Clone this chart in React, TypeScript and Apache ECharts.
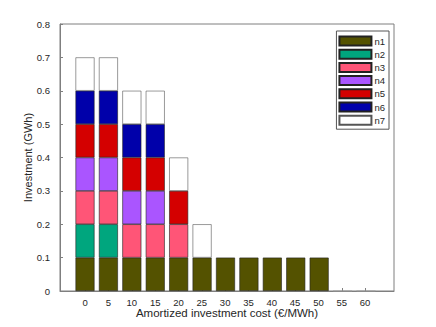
import React, { useEffect, useRef } from "react";
import * as echarts from "echarts";

const costs = [0, 5, 10, 15, 20, 25, 30, 35, 40, 45, 50, 55, 60];
const seriesNames = ["n1", "n2", "n3", "n4", "n5", "n6", "n7"];
const n1 = [0.1, 0.1, 0.1, 0.1, 0.1, 0.1, 0.1, 0.1, 0.1, 0.1, 0.1, 0, 0];
const n2 = [0.1, 0.1, 0, 0, 0, 0, 0, 0, 0, 0, 0, 0, 0];
const n3 = [0.1, 0.1, 0.1, 0.1, 0.1, 0, 0, 0, 0, 0, 0, 0, 0];
const n4 = [0.1, 0.1, 0.1, 0.1, 0, 0, 0, 0, 0, 0, 0, 0, 0];
const n5 = [0.1, 0.1, 0.1, 0.1, 0.1, 0, 0, 0, 0, 0, 0, 0, 0];
const n6 = [0.1, 0.1, 0.1, 0.1, 0, 0, 0, 0, 0, 0, 0, 0, 0];
const n7 = [0.1, 0.1, 0.1, 0.1, 0.1, 0.1, 0, 0, 0, 0, 0, 0, 0];

const colors = ["#545200", "#00A67E", "#FF5577", "#AA55FF", "#D40000", "#0000AA", "#FFFFFF"];
const allValues = [n1, n2, n3, n4, n5, n6, n7];

export default function App() {
  const ref = useRef<HTMLDivElement>(null);
  useEffect(() => {
    document.body.style.margin = "0";
    const chart = echarts.init(ref.current!, null, { renderer: "svg" });
    const font = "Liberation Sans, Arial, Helvetica, sans-serif";
    const axisGray = "#7f7f7f";
    chart.setOption({
      animation: false,
      textStyle: { fontFamily: font },
      grid: [
        { left: 60, right: 42, top: 24, bottom: 36, show: true, borderColor: axisGray, borderWidth: 1, outerBoundsMode: "none", containLabel: false },
        { left: 73.3, right: 58.3, top: 24, bottom: 36, outerBoundsMode: "none", containLabel: false },
      ],
      legend: {
        orient: "vertical",
        right: 47,
        top: 31,
        data: seriesNames,
        icon: "rect",
        itemWidth: 32,
        itemHeight: 9,
        itemGap: 1.2,
        padding: [4, 4, 3, 2],
        borderColor: "#555",
        borderWidth: 1,
        backgroundColor: "#fff",
        textStyle: { fontSize: 9.5, lineHeight: 12, color: "#262626", fontFamily: font, padding: [0, 0, 0, -2] },
      },
      xAxis: [
        {
          type: "value",
          gridIndex: 0,
          min: -5.4,
          max: 66.2,
          name: "Amortized investment cost (€/MWh)",
          nameLocation: "middle",
          nameGap: 16,
          nameMoveOverlap: false,
          nameTextStyle: { fontSize: 11.5, color: "#262626" },
          splitLine: { show: false },
          axisLine: { show: true, onZero: false, lineStyle: { color: axisGray } },
          axisTick: { show: true, inside: true, length: 3, customValues: costs, lineStyle: { color: axisGray } },
          axisLabel: { customValues: costs, fontSize: 9.5, color: "#262626", margin: 6 },
        },
        {
          type: "category",
          gridIndex: 1,
          data: costs.map(String),
          show: false,
        },
      ],
      yAxis: [
        {
          type: "value",
          gridIndex: 0,
          min: 0,
          max: 0.8,
          interval: 0.1,
          name: "Investment (GWh)",
          nameLocation: "middle",
          nameGap: 27,
          nameMoveOverlap: false,
          nameTextStyle: { fontSize: 11, color: "#262626" },
          splitLine: { show: false },
          axisLine: { show: true, onZero: false, lineStyle: { color: axisGray } },
          axisTick: { show: true, inside: true, length: 3, lineStyle: { color: axisGray } },
          axisLabel: { fontSize: 9.5, color: "#262626", margin: 10, formatter: (v: number) => String(Math.round(v * 10) / 10) },
        },
        {
          type: "value",
          gridIndex: 1,
          min: 0,
          max: 0.8,
          show: false,
        },
      ],
      series: seriesNames.map((name, i) => ({
        name,
        type: "bar",
        stack: "total",
        xAxisIndex: 1,
        yAxisIndex: 1,
        barWidth: 19,
        itemStyle: {
          color: colors[i],
          borderColor: i === 6 ? "#555" : "#222",
          borderWidth: 0.6,
        },
        data: allValues[i].map((v) =>
          v === 0 ? (i === 0 ? { value: 0, itemStyle: { borderColor: "#999", borderWidth: 0.5 } } : "-") : v
        ),
      })),
    });
    return () => chart.dispose();
  }, []);
  return <div ref={ref} style={{ width: 436, height: 327 }} />;
}
